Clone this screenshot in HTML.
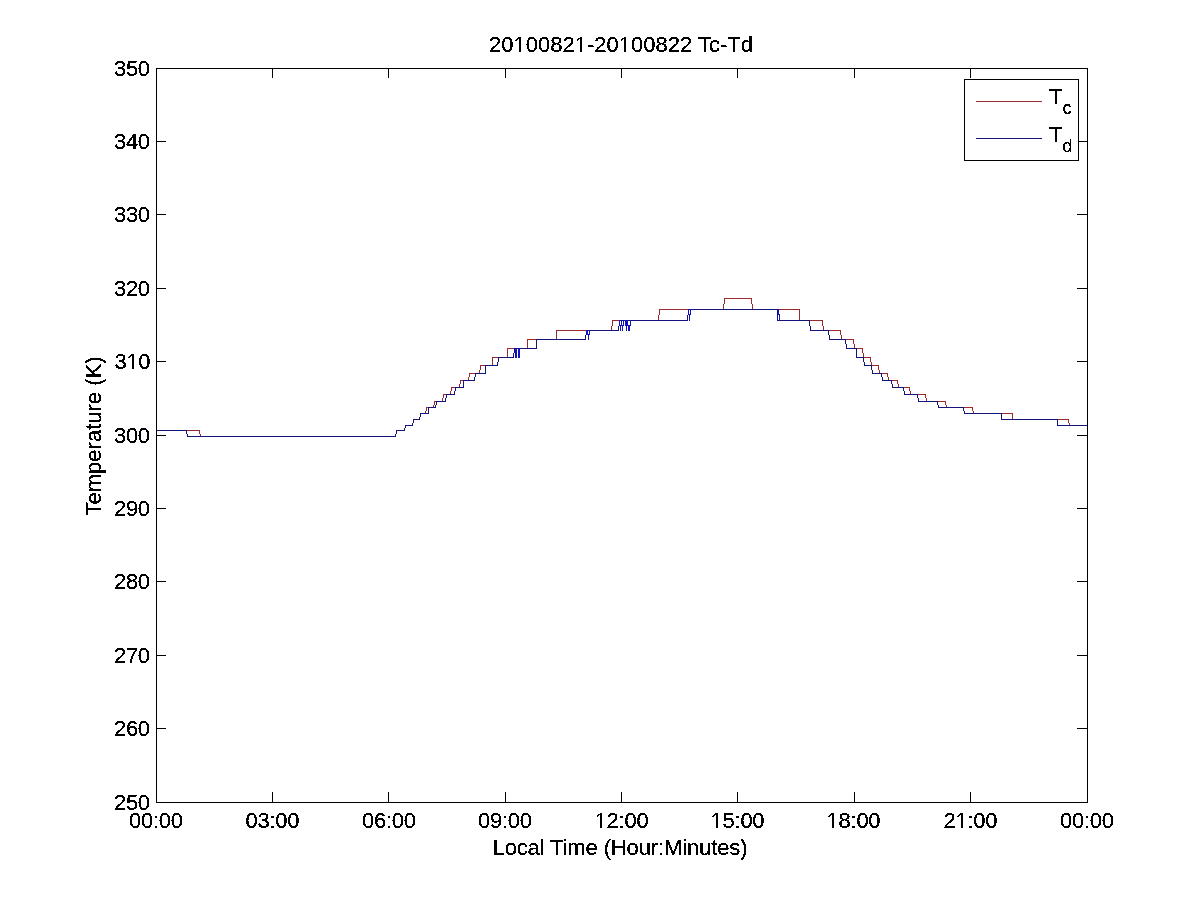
<!DOCTYPE html>
<html><head><meta charset="utf-8"><title>20100821-20100822 Tc-Td</title><style>
html,body{margin:0;padding:0;background:#fff;overflow:hidden}
svg{display:block}
text{font-family:"Liberation Sans",sans-serif;font-size:22px;fill:#000}
</style></head><body>
<svg width="1201" height="901" viewBox="0 0 1201 901">
<defs><filter id="bw" x="0" y="0" width="100%" height="100%"><feComponentTransfer><feFuncA type="discrete" tableValues="0 1 1"/></feComponentTransfer></filter></defs>
<rect x="0" y="0" width="1201" height="901" fill="#fff"/>
<path d="M156 430h44v1h-44zM199 430h1v4h-1zM200 434h1v3h-1zM200 436h196v1h-196zM395 434h1v3h-1zM396 430h1v4h-1zM396 430h9v1h-9zM404 428h1v3h-1zM405 425h1v3h-1zM405 425h8v1h-8zM412 423h1v3h-1zM413 419h1v4h-1zM413 419h7v1h-7zM419 417h1v3h-1zM420 413h1v4h-1zM420 413h6v1h-6zM425 411h1v3h-1zM426 407h1v4h-1zM426 407h8v1h-8zM433 405h1v3h-1zM434 401h1v4h-1zM434 401h9v1h-9zM442 398h1v4h-1zM443 394h1v4h-1zM443 394h8v1h-8zM450 391h1v4h-1zM451 387h1v4h-1zM451 387h9v1h-9zM459 384h1v4h-1zM460 380h1v4h-1zM460 380h9v1h-9zM468 377h1v4h-1zM469 373h1v4h-1zM469 373h11v1h-11zM479 370h1v4h-1zM480 365h1v5h-1zM480 365h13v1h-13zM492 357h1v9h-1zM492 357h16v1h-16zM507 348h1v10h-1zM507 348h21v1h-21zM527 339h1v10h-1zM527 339h30v1h-30zM556 330h1v10h-1zM556 330h56v1h-56zM611 326h1v5h-1zM612 320h1v6h-1zM612 320h47v1h-47zM658 315h1v6h-1zM659 309h1v6h-1zM659 309h65v1h-65zM723 304h1v6h-1zM724 298h1v6h-1zM724 298h28v1h-28zM751 298h1v6h-1zM752 304h1v6h-1zM752 309h48v1h-48zM799 309h1v12h-1zM799 320h24v1h-24zM822 320h1v6h-1zM823 326h1v5h-1zM823 330h18v1h-18zM840 330h1v5h-1zM841 335h1v5h-1zM841 339h13v1h-13zM853 339h1v5h-1zM854 344h1v5h-1zM854 348h9v1h-9zM862 348h1v5h-1zM863 353h1v5h-1zM863 357h8v1h-8zM870 357h1v5h-1zM871 362h1v4h-1zM871 365h8v1h-8zM878 365h1v5h-1zM879 370h1v4h-1zM879 373h9v1h-9zM887 373h1v4h-1zM888 377h1v4h-1zM888 380h10v1h-10zM897 380h1v4h-1zM898 384h1v4h-1zM898 387h12v1h-12zM909 387h1v4h-1zM910 391h1v4h-1zM910 394h16v1h-16zM925 394h1v4h-1zM926 398h1v4h-1zM926 401h20v1h-20zM945 401h1v4h-1zM946 405h1v3h-1zM946 407h27v1h-27zM972 407h1v4h-1zM973 411h1v3h-1zM973 413h40v1h-40zM1012 413h1v7h-1zM1012 419h57v1h-57zM1068 419h1v4h-1zM1069 423h1v3h-1zM1069 425h18v1h-18z" fill="#9c2830" shape-rendering="crispEdges"/>
<path d="M156 430h31v1h-31zM186 430h1v4h-1zM187 434h1v3h-1zM187 436h209v1h-209zM395 434h1v3h-1zM396 430h1v4h-1zM396 430h9v1h-9zM404 428h1v3h-1zM405 425h1v3h-1zM405 425h8v1h-8zM412 423h1v3h-1zM413 419h1v4h-1zM413 419h7v1h-7zM419 417h1v3h-1zM420 413h1v4h-1zM420 413h9v1h-9zM428 407h1v7h-1zM428 407h8v1h-8zM435 405h1v3h-1zM436 401h1v4h-1zM436 401h10v1h-10zM445 398h1v4h-1zM446 394h1v4h-1zM446 394h9v1h-9zM454 391h1v4h-1zM455 387h1v4h-1zM455 387h9v1h-9zM463 380h1v8h-1zM463 380h12v1h-12zM474 377h1v4h-1zM475 373h1v4h-1zM475 373h11v1h-11zM485 365h1v9h-1zM485 365h13v1h-13zM497 362h1v4h-1zM498 357h1v5h-1zM498 357h16v1h-16zM513 353h1v5h-1zM514 348h1v5h-1zM514 348h23v1h-23zM536 339h1v10h-1zM536 339h50v1h-50zM585 335h1v5h-1zM586 330h1v5h-1zM586 330h33v1h-33zM618 326h1v5h-1zM619 320h1v6h-1zM619 320h69v1h-69zM687 315h1v6h-1zM688 309h1v6h-1zM688 309h90v1h-90zM777 309h1v12h-1zM777 320h33v1h-33zM809 320h1v6h-1zM810 326h1v5h-1zM810 330h19v1h-19zM828 330h1v5h-1zM829 335h1v5h-1zM829 339h17v1h-17zM845 339h1v5h-1zM846 344h1v5h-1zM846 348h11v1h-11zM856 348h1v10h-1zM856 357h8v1h-8zM863 357h1v5h-1zM864 362h1v4h-1zM864 365h8v1h-8zM871 365h1v5h-1zM872 370h1v4h-1zM872 373h10v1h-10zM881 373h1v4h-1zM882 377h1v4h-1zM882 380h10v1h-10zM891 380h1v4h-1zM892 384h1v4h-1zM892 387h12v1h-12zM903 387h1v4h-1zM904 391h1v4h-1zM904 394h14v1h-14zM917 394h1v4h-1zM918 398h1v4h-1zM918 401h20v1h-20zM937 401h1v4h-1zM938 405h1v3h-1zM938 407h26v1h-26zM963 407h1v4h-1zM964 411h1v3h-1zM964 413h38v1h-38zM1001 413h1v7h-1zM1001 419h57v1h-57zM1057 419h1v7h-1zM1057 425h30v1h-30z" fill="#14147a" shape-rendering="crispEdges"/>
<path d="M515 348h1v10h-1zM516 348h1v10h-1zM518 348h1v10h-1zM519 348h1v10h-1zM586 330h1v5h-1zM587 330h1v5h-1zM588 334h1v6h-1zM589 330h1v5h-1zM619 320h1v6h-1zM620 325h1v6h-1zM621 320h1v6h-1zM622 325h1v6h-1zM623 320h1v6h-1zM625 320h1v6h-1zM626 320h1v11h-1zM627 320h1v6h-1zM628 325h1v6h-1zM629 325h1v6h-1zM630 320h1v6h-1zM688 309h1v6h-1zM689 314h1v7h-1zM690 309h1v6h-1zM778 309h1v6h-1zM779 314h1v7h-1z" fill="#1212c0" shape-rendering="crispEdges"/>
<path d="M156.5 68.5H1087.5V802.5H156.5ZM272.5 68v10M272.5 792v11M388.5 68v10M388.5 792v11M505.5 68v10M505.5 792v11M621.5 68v10M621.5 792v11M737.5 68v10M737.5 792v11M854.5 68v10M854.5 792v11M970.5 68v10M970.5 792v11M156 728.5h10M1077 728.5h11M156 655.5h10M1077 655.5h11M156 581.5h10M1077 581.5h11M156 508.5h10M1077 508.5h11M156 435.5h10M1077 435.5h11M156 361.5h10M1077 361.5h11M156 288.5h10M1077 288.5h11M156 214.5h10M1077 214.5h11M156 141.5h10M1077 141.5h11" fill="none" stroke="#000" stroke-width="1" shape-rendering="crispEdges"/>
<rect x="964.5" y="79.5" width="114" height="81" fill="#fff" stroke="#000" stroke-width="1" shape-rendering="crispEdges"/>
<path d="M976 101.5H1042" stroke="#9c2830" stroke-width="1" shape-rendering="crispEdges"/>
<path d="M976 138.5H1042" stroke="#14147a" stroke-width="1" shape-rendering="crispEdges"/>
<g filter="url(#bw)" id="txt">
<text transform="translate(150 810) scale(1 1.0)" text-anchor="end" textLength="36">250</text>
<text transform="translate(150 736) scale(1 1.0)" text-anchor="end" textLength="36">260</text>
<text transform="translate(150 663) scale(1 1.0)" text-anchor="end" textLength="36">270</text>
<text transform="translate(150 589) scale(1 1.0)" text-anchor="end" textLength="36">280</text>
<text transform="translate(150 516) scale(1 1.0)" text-anchor="end" textLength="36">290</text>
<text transform="translate(150 443) scale(1 1.0)" text-anchor="end" textLength="36">300</text>
<text transform="translate(150.6 369) scale(1 1.0)" text-anchor="end" textLength="36">310</text>
<text transform="translate(150 296) scale(1 1.0)" text-anchor="end" textLength="36">320</text>
<text transform="translate(150 222) scale(1 1.0)" text-anchor="end" textLength="36">330</text>
<text transform="translate(150 149) scale(1 1.0)" text-anchor="end" textLength="36">340</text>
<text transform="translate(150 76) scale(1 1.0)" text-anchor="end" textLength="36">350</text>
<text transform="translate(156 828) scale(1 1.0)" text-anchor="middle" textLength="54">00:00</text>
<text transform="translate(272.5 828) scale(1 1.0)" text-anchor="middle" textLength="54">03:00</text>
<text transform="translate(389 828) scale(1 1.0)" text-anchor="middle" textLength="54">06:00</text>
<text transform="translate(505 828) scale(1 1.0)" text-anchor="middle" textLength="54">09:00</text>
<text transform="translate(621.65 828) scale(1 1.0)" text-anchor="middle" textLength="54">12:00</text>
<text transform="translate(737.6 828) scale(1 1.0)" text-anchor="middle" textLength="54">15:00</text>
<text transform="translate(853.6 828) scale(1 1.0)" text-anchor="middle" textLength="54">18:00</text>
<text transform="translate(970.5 828) scale(1 1.0)" text-anchor="middle" textLength="54">21:00</text>
<text transform="translate(1087 828) scale(1 1.0)" text-anchor="middle" textLength="54">00:00</text>
<text transform="translate(621 52) scale(1 1.0)" text-anchor="middle">20100821-20100822 Tc-Td</text>
<text transform="translate(620 855) scale(1 1.0)" text-anchor="middle" textLength="255">Local Time (Hour:Minutes)</text>
<text transform="translate(101 436) rotate(-90) scale(1 1.0)" text-anchor="middle">Temperature (K)</text>
<text transform="translate(1049 104) scale(1 1.0)">T</text><text transform="translate(1062.5 114) scale(1 1.0)" style="font-size:18px">c</text>
<text transform="translate(1049 142) scale(1 1.0)">T</text><text transform="translate(1062.5 152) scale(1 1.0)" style="font-size:18px">d</text>
</g>
<path d="M128 367h4v1h-4zM134 367h4v1h-4zM128 368h4v1h-4zM134 368h4v1h-4zM596 826h4v1h-4zM602 826h4v1h-4zM712 826h4v1h-4zM718 826h4v1h-4zM828 826h4v1h-4zM834 826h4v1h-4zM957 826h4v1h-4zM963 826h4v1h-4zM596 827h4v1h-4zM602 827h4v1h-4zM712 827h4v1h-4zM718 827h4v1h-4zM828 827h4v1h-4zM834 827h4v1h-4zM957 827h4v1h-4zM963 827h4v1h-4zM515 50h4v1h-4zM521 50h4v1h-4zM576 50h4v1h-4zM582 50h4v1h-4zM620 50h4v1h-4zM626 50h4v1h-4zM515 51h4v1h-4zM521 51h4v1h-4zM576 51h4v1h-4zM582 51h4v1h-4zM620 51h4v1h-4zM626 51h4v1h-4z" fill="#fff" shape-rendering="crispEdges"/>
</svg>
</body></html>
